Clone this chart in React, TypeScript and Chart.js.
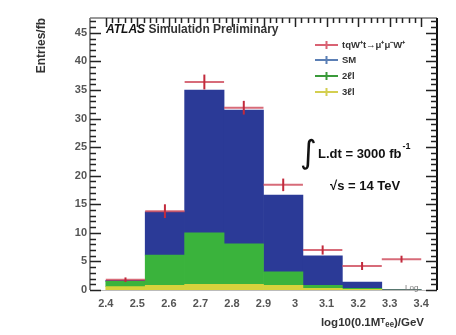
import React, { useEffect, useRef } from "react";
import { Chart, registerables } from "chart.js";

Chart.register(...registerables);

// ---- data ----
const binEdges = [2.4, 2.525, 2.65, 2.775, 2.9, 3.025, 3.15, 3.275, 3.4];
const yellow3l = [0.6, 0.8, 1.0, 1.0, 0.8, 0.3, 0.1, 0.0];
const green2l = [0.9, 5.3, 9.0, 7.1, 2.4, 0.5, 0.2, 0.0];
const blueSM = [0.2, 7.6, 25.0, 23.4, 13.4, 5.2, 1.1, 0.1];
const redTotal = [1.8, 13.8, 36.4, 31.9, 18.4, 7.0, 4.2, 5.4];
const redErr = [0.4, 1.2, 1.3, 1.2, 1.1, 0.8, 0.7, 0.6];
const xTickValues = [2.4, 2.5, 2.6, 2.7, 2.8, 2.9, 3.0, 3.1, 3.2, 3.3, 3.4];
const xTickLabels = ["2.4", "2.5", "2.6", "2.7", "2.8", "2.9", "3", "3.1", "3.2", "3.3", "3.4"];
const yTickValues = [0, 5, 10, 15, 20, 25, 30, 35, 40, 45];
const yTickLabels = ["0", "5", "10", "15", "20", "25", "30", "35", "40", "45"];
const legendLabels = ["t\u0071W\u207At\u2192\u03BC\u207A\u03BC\u207BW\u207A", "SM", "2\u2113l", "3\u2113l"];

const BLUE = "#2b3a97";
const GREEN = "#3ab33c";
const YELLOW = "#d6d23c";
const RED = "#c22a3c";
const FONT = "'Liberation Sans', Arial, sans-serif";

export default function App() {
  const ref = useRef<HTMLCanvasElement>(null);

  useEffect(() => {
    const canvas = ref.current!;
    const centers = binEdges.slice(0, -1).map((e, i) => (e + binEdges[i + 1]) / 2);
    const mk = (arr: number[]) => centers.map((x, i) => ({ x, y: arr[i] }));

    const overlay = {
      id: "overlay",
      afterDatasetsDraw(chart: any) {
        const ctx = chart.ctx as CanvasRenderingContext2D;
        const xs = chart.scales.x;
        const ys = chart.scales.y;
        const { left, right, top, bottom } = chart.chartArea;
        ctx.save();
        // red points with error bars
        for (let i = 0; i < redTotal.length; i++) {
          const x0 = xs.getPixelForValue(binEdges[i]);
          const x1 = xs.getPixelForValue(binEdges[i + 1]);
          const xc = xs.getPixelForValue(centers[i]);
          const yc = ys.getPixelForValue(redTotal[i]);
          const ylo = ys.getPixelForValue(redTotal[i] - redErr[i]);
          const yhi = ys.getPixelForValue(redTotal[i] + redErr[i]);
          ctx.strokeStyle = "rgba(205,70,88,0.8)";
          ctx.lineWidth = 2;
          ctx.beginPath();
          ctx.moveTo(x0, yc);
          ctx.lineTo(x1, yc);
          ctx.stroke();
          ctx.strokeStyle = RED;
          ctx.lineWidth = 2;
          ctx.beginPath();
          ctx.moveTo(xc, ylo);
          ctx.lineTo(xc, yhi);
          ctx.stroke();
        }
        // frame
        ctx.lineWidth = 2;
        ctx.strokeStyle = "#888";
        ctx.beginPath();
        ctx.moveTo(left, top);
        ctx.lineTo(left, bottom);
        ctx.stroke();
        ctx.strokeStyle = "#777";
        ctx.lineWidth = 1.5;
        ctx.beginPath();
        ctx.moveTo(left, top);
        ctx.lineTo(right, top);
        ctx.stroke();
        ctx.strokeStyle = "#111";
        ctx.lineWidth = 2;
        ctx.beginPath();
        ctx.moveTo(right, top);
        ctx.lineTo(right, bottom);
        ctx.stroke();
        ctx.strokeStyle = "#bbb";
        ctx.lineWidth = 1;
        ctx.beginPath();
        ctx.moveTo(left, bottom + 0.5);
        ctx.lineTo(right, bottom + 0.5);
        ctx.stroke();
        // y ticks (left and right)
        ctx.strokeStyle = "#222";
        ctx.lineWidth = 1.5;
        for (let v = 0; v <= 47; v++) {
          const y = Math.round(ys.getPixelForValue(v)) + 0.5;
          const len = v % 5 === 0 ? 11 : 6;
          ctx.beginPath();
          ctx.moveTo(left, y);
          ctx.lineTo(left + len, y);
          ctx.moveTo(right, y);
          ctx.lineTo(right - len, y);
          ctx.stroke();
        }
        // x ticks (top)
        for (let k = 0; k <= 50; k++) {
          const x = Math.round(xs.getPixelForValue(2.4 + k * 0.02)) + 0.5;
          const len = k % 5 === 0 ? 9 : 5;
          ctx.beginPath();
          ctx.moveTo(x, top);
          ctx.lineTo(x, top + len);
          ctx.stroke();
        }
        ctx.restore();
      },
      afterDraw(chart: any) {
        const ctx = chart.ctx as CanvasRenderingContext2D;
        ctx.save();
        ctx.textBaseline = "middle";
        // ATLAS label
        ctx.fillStyle = "#111";
        ctx.font = `italic bold 12px ${FONT}`;
        ctx.textAlign = "left";
        ctx.fillText("ATLAS", 106, 30);
        const w = ctx.measureText("ATLAS ").width;
        ctx.font = `bold 12px ${FONT}`;
        ctx.fillStyle = "#333";
        ctx.fillText("Simulation Preliminary", 106 + w, 30);

        // legend
        const legendColors = ["rgba(210,70,90,0.85)", "#5b7fb5", "#3a9a3a", "#d4cf50"];
        const legendY = [45, 60, 76, 92];
        for (let i = 0; i < 4; i++) {
          const y = legendY[i];
          ctx.strokeStyle = legendColors[i];
          ctx.lineWidth = 2;
          ctx.beginPath();
          ctx.moveTo(315, y);
          ctx.lineTo(338, y);
          ctx.moveTo(326.5, y - 4);
          ctx.lineTo(326.5, y + 4);
          ctx.stroke();
          ctx.fillStyle = "#333";
          ctx.font = `bold 9.5px ${FONT}`;
          ctx.textAlign = "left";
          ctx.fillText(legendLabels[i], 342, y);
        }

        // luminosity
        ctx.fillStyle = "#111";
        ctx.font = `32px 'DejaVu Sans', sans-serif`;
        ctx.textAlign = "left";
        ctx.fillText("\u222B", 300, 155);
        ctx.font = `bold 13px ${FONT}`;
        ctx.fillText("L.dt = 3000 fb", 318, 154);
        const lw = ctx.measureText("L.dt = 3000 fb").width;
        ctx.font = `bold 9px ${FONT}`;
        ctx.fillText("-1", 318 + lw + 1, 147);
        ctx.font = `bold 13px ${FONT}`;
        ctx.fillText("\u221As = 14 TeV", 330, 186);

        // small log marker
        ctx.fillStyle = "#777";
        ctx.font = `8px ${FONT}`;
        ctx.fillText("Log", 405, 288);

        // axis titles
        ctx.fillStyle = "#333";
        ctx.font = `bold 11.5px ${FONT}`;
        ctx.textAlign = "right";
        ctx.fillText("log10(0.1M\u1D40\u2091\u2091)/GeV", 424, 323);

        ctx.translate(42, 18);
        ctx.rotate(-Math.PI / 2);
        ctx.textAlign = "right";
        ctx.font = `bold 12px ${FONT}`;
        ctx.fillText("Entries/fb", 0, 0);
        ctx.restore();
      },
    };

    const barCommon = {
      stack: "bkg",
      barPercentage: 1,
      categoryPercentage: 1,
      barThickness: "flex" as const,
      borderWidth: 0,
    };

    const chart = new Chart(canvas, {
      type: "bar",
      data: {
        datasets: [
          { label: legendLabels[3], data: mk(yellow3l), backgroundColor: YELLOW, ...barCommon },
          { label: legendLabels[2], data: mk(green2l), backgroundColor: GREEN, ...barCommon },
          { label: legendLabels[1], data: mk(blueSM), backgroundColor: BLUE, ...barCommon },
        ] as any,
      },
      options: {
        responsive: false,
        maintainAspectRatio: false,
        animation: false,
        layout: { padding: { left: 0, top: 18, right: 19, bottom: 0 } },
        plugins: { legend: { display: false }, tooltip: { enabled: false } },
        scales: {
          x: {
            type: "linear",
            min: 2.4,
            max: 3.4,
            stacked: true,
            grid: { display: false, drawTicks: false },
            border: { display: false },
            afterBuildTicks: (s: any) => {
              s.ticks = xTickValues.map((v) => ({ value: v }));
            },
            ticks: {
              autoSkip: false,
              maxRotation: 0,
              padding: 7,
              color: "#555",
              font: { family: FONT, size: 11, weight: "bold" },
              callback: (_v: any, i: number) => xTickLabels[i],
            },
            afterFit: (s: any) => {
              s.height = 45;
            },
          },
          y: {
            type: "linear",
            min: 0,
            max: 47.6,
            stacked: true,
            grid: { display: false, drawTicks: false },
            border: { display: false },
            afterBuildTicks: (s: any) => {
              s.ticks = yTickValues.map((v) => ({ value: v }));
            },
            ticks: {
              autoSkip: false,
              padding: 3,
              color: "#555",
              font: { family: FONT, size: 11, weight: "bold" },
              callback: (_v: any, i: number) => yTickLabels[i],
            },
            afterFit: (s: any) => {
              s.width = 90;
            },
          },
        },
      } as any,
      plugins: [overlay],
    });
    return () => chart.destroy();
  }, []);

  return (
    <div style={{ position: "fixed", left: 0, top: 0, width: 456, height: 335, background: "#fff" }}>
      <canvas ref={ref} width={456} height={335} style={{ width: 456, height: 335, display: "block" }} />
    </div>
  );
}
